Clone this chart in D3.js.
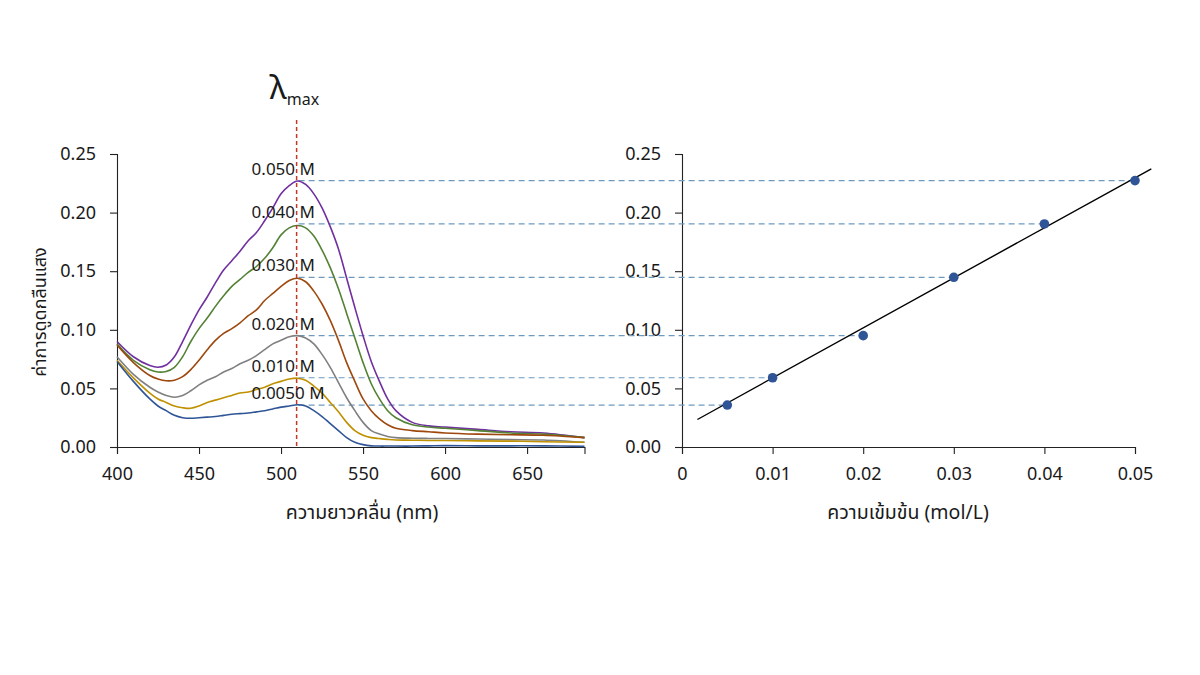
<!DOCTYPE html>
<html><head><meta charset="utf-8">
<script src="https://cdn.jsdelivr.net/npm/d3@7"></script>
<style>
body{margin:0;background:#fff;}
text{font-family:"Noto Sans","Noto Sans Thai",sans-serif;fill:#1a1a1a;}
.axis path,.axis line{stroke:#222;stroke-width:1.1;}
.axis text{font-size:18px;}
</style></head><body>
<svg id="c" width="1200" height="675"></svg>
<script>
const wavelengths = [400,410,420,425,430,435,440,445,450,455,460,465,470,475,480,485,490,495,500,505,510,515,520,525,530,535,540,545,550,555,560,565,570,580,590,600,620,640,660,685];
const abs050 = [.090,.077,.0695,.068,.070,.077,.090,.104,.117,.128,.140,.151,.159,.167,.176,.183,.193,.204,.216,.223,.227,.224,.216,.204,.188,.169,.144,.119,.095,.073,.056,.041,.031,.021,.018,.017,.015,.013,.012,.008];
const abs040 = [.088,.074,.066,.064,.0645,.068,.077,.090,.101,.110,.120,.129,.137,.143,.149,.154,.161,.170,.181,.187,.189,.187,.180,.168,.153,.135,.114,.093,.072,.054,.041,.031,.025,.019,.017,.016,.014,.012,.011,.008];
const abs030 = [.087,.072,.061,.058,.0565,.057,.060,.066,.074,.083,.091,.097,.101,.106,.112,.117,.125,.131,.137,.142,.144,.141,.133,.122,.108,.091,.072,.056,.041,.031,.024,.019,.016,.014,.013,.012,.011,.0105,.010,.008];
const abs020 = [.077,.062,.051,.047,.044,.0425,.044,.048,.053,.057,.060,.064,.067,.071,.074,.078,.083,.088,.091,.094,.095,.093,.088,.079,.068,.055,.042,.031,.021,.014,.011,.009,.008,.0075,.0073,.0072,.0068,.0063,.006,.004];
const abs010 = [.074,.059,.046,.041,.038,.035,.0335,.033,.035,.038,.040,.042,.044,.046,.047,.049,.051,.054,.056,.058,.0587,.057,.052,.046,.038,.030,.021,.014,.010,.008,.0072,.0065,.006,.0058,.0056,.0055,.0052,.005,.0045,.004];
const abs005 = [.073,.056,.041,.035,.031,.027,.025,.0245,.025,.0255,.026,.027,.028,.0285,.029,.030,.031,.0325,.034,.035,.036,.035,.031,.026,.020,.014,.008,.004,.002,.001,.0008,.0008,.0008,.0008,.001,.0012,.001,.001,.001,.0005];
const seriesColors = ["#7030a0","#548235","#9e480e","#808080","#bf9000","#2f5597"];
const lambdaMax = 509.5;
const concentrations = [0.005,0.01,0.02,0.03,0.04,0.05];
const concLabels = ["0.0050 M","0.010 M","0.020 M","0.030 M","0.040 M","0.050 M"];
const peakAbs = [0.0358,0.0591,0.095,0.1448,0.1903,0.2273];
const fitSlope = 4.27, fitIntercept = 0.0162, fitRange = [0.0017,0.0518];
const yTicks = [0,0.05,0.10,0.15,0.20,0.25];
const xTicksNm = [400,450,500,550,600,650];
const xTicksConc = [0,0.01,0.02,0.03,0.04,0.05];
const yTitle = "ค่าการดูดกลืนแสง";
const xTitleL = "ความยาวคลื่น (nm)";
const xTitleR = "ความเข้มข้น (mol/L)";

const svg = d3.select("#c");
const y = d3.scaleLinear().domain([0,0.25]).range([447,154]);
const xL = d3.scaleLinear().domain([400,685]).range([117,584.5]);
const xR = d3.scaleLinear().domain([0,0.05]).range([682,1135]);

svg.append("g").attr("class","axis").attr("transform","translate(117,0)")
  .call(d3.axisLeft(y).tickValues(yTicks).tickFormat(d3.format(".2f")).tickSizeOuter(0).tickSize(7).tickPadding(14));
svg.append("g").attr("class","axis").attr("transform","translate(0,447)")
  .call(d3.axisBottom(xL).tickValues(xTicksNm).tickFormat(d3.format("d")).tickSizeOuter(0).tickSize(7).tickPadding(13));
svg.append("g").attr("class","axis").attr("transform","translate(682,0)")
  .call(d3.axisLeft(y).tickValues(yTicks).tickFormat(d3.format(".2f")).tickSizeOuter(0).tickSize(7).tickPadding(14));
svg.append("g").attr("class","axis").attr("transform","translate(0,447)")
  .call(d3.axisBottom(xR).tickValues(xTicksConc).tickFormat(d=>d===0?"0":d3.format(".2f")(d)).tickSizeOuter(0).tickSize(7).tickPadding(13));

svg.append("text").attr("transform","translate(46,312) rotate(-90)").attr("text-anchor","middle").style("font-size","18px").text(yTitle);
svg.append("text").attr("x",362).attr("y",519).attr("text-anchor","middle").style("font-size","19.5px").text(xTitleL);
svg.append("text").attr("x",908).attr("y",519).attr("text-anchor","middle").style("font-size","19.5px").text(xTitleR);

svg.append("g").selectAll("line").data(peakAbs).join("line")
  .attr("x1",xL(lambdaMax)+2).attr("x2",(d,i)=>xR(concentrations[i]))
  .attr("y1",d=>y(d)).attr("y2",d=>y(d))
  .attr("stroke","#6f9ac0").attr("stroke-width",1.2).attr("stroke-dasharray","6,4");

const allSeries = [abs050,abs040,abs030,abs020,abs010,abs005];
const line = d3.line().x((d,i)=>xL(wavelengths[i])).y(d=>y(d)).curve(d3.curveCatmullRom.alpha(0.5));
svg.append("g").selectAll("path").data(allSeries).join("path")
  .attr("d",d=>line(d)).attr("fill","none").attr("stroke",(d,i)=>seriesColors[i]).attr("stroke-width",1.6);

svg.append("line").attr("x1",xL(lambdaMax)).attr("x2",xL(lambdaMax)).attr("y1",120).attr("y2",447)
  .attr("stroke","#c0392b").attr("stroke-width",1.5).attr("stroke-dasharray","4,3");
const lm = svg.append("text").attr("x",xL(lambdaMax)-27).attr("y",99).style("font-size","33px");
lm.append("tspan").text("λ");
lm.append("tspan").attr("dy",6).style("font-size","16px").text("max");

svg.append("g").selectAll("text").data(peakAbs).join("text")
  .attr("x",xL(lambdaMax)-45).attr("y",d=>y(d)-6)
  .style("font-size","17px").text((d,i)=>concLabels[i]);

svg.append("line").attr("x1",xR(fitRange[0])).attr("x2",xR(fitRange[1]))
  .attr("y1",y(fitIntercept+fitSlope*fitRange[0])).attr("y2",y(fitIntercept+fitSlope*fitRange[1]))
  .attr("stroke","#000").attr("stroke-width",1.4);
svg.append("g").selectAll("circle").data(peakAbs).join("circle")
  .attr("cx",(d,i)=>xR(concentrations[i])).attr("cy",d=>y(d)).attr("r",4.8).attr("fill","#2f5597");
</script></body></html>
